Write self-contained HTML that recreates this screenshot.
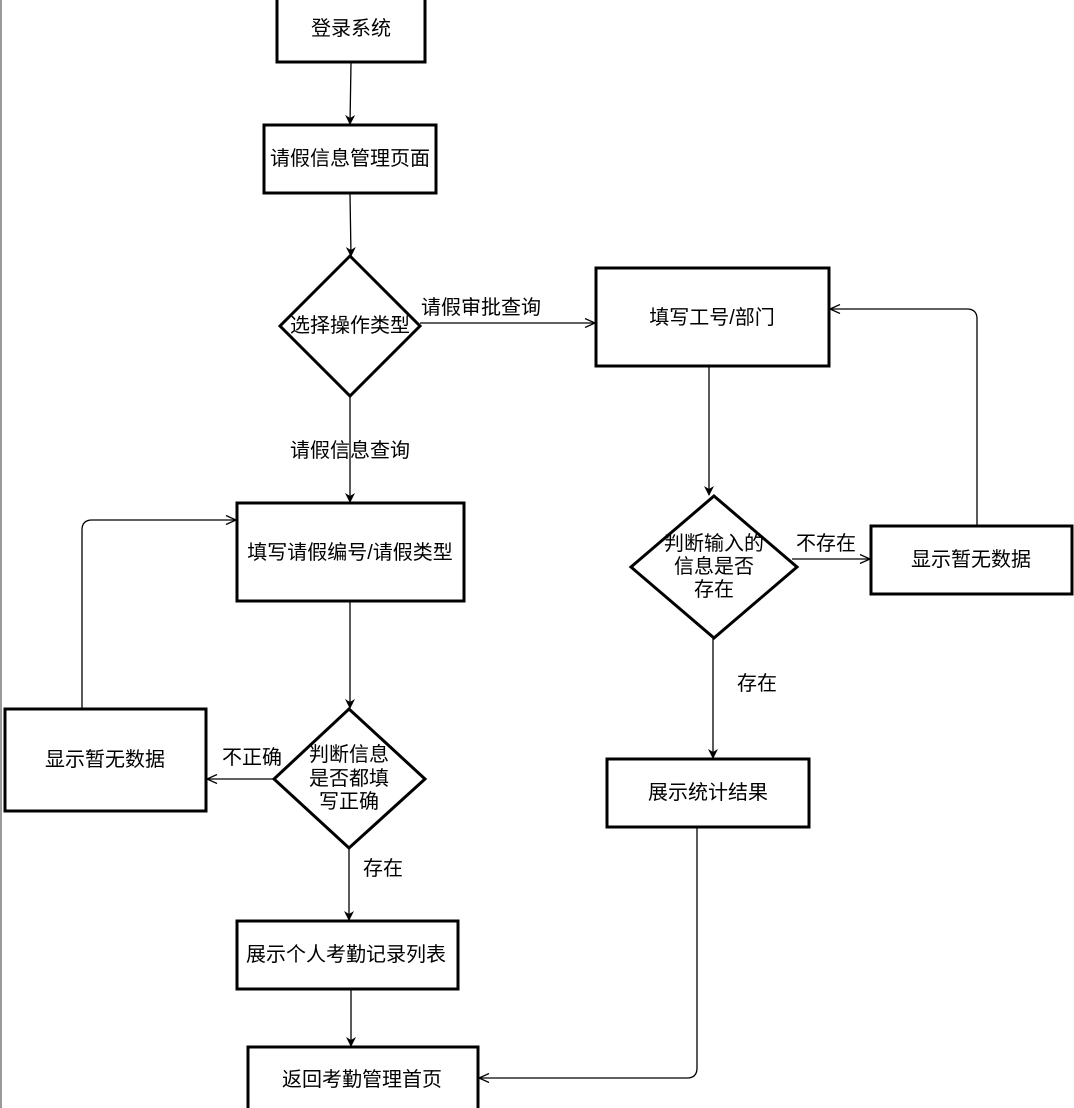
<!DOCTYPE html>
<html><head><meta charset="utf-8"><style>
html,body{margin:0;padding:0;background:#fff;}
svg{display:block;}
text{font-family:"Liberation Sans","Noto Sans CJK SC",sans-serif;font-size:20px;fill:#000;text-anchor:middle;dominant-baseline:central;}
.b{fill:#fff;stroke:#000;stroke-width:3;}
.l{fill:none;stroke:#000;stroke-width:1.3;}
</style></head><body>
<svg width="1074" height="1108" viewBox="0 0 1074 1108" xmlns="http://www.w3.org/2000/svg">
<defs>
<marker id="a" markerWidth="10" markerHeight="10" refX="9" refY="5" orient="auto" markerUnits="userSpaceOnUse"><path d="M0,0 L10,5 L0,10 L3,5 Z" fill="#000"/></marker>
<marker id="o" markerWidth="12" markerHeight="10" refX="11" refY="5" orient="auto" markerUnits="userSpaceOnUse"><path d="M1,0.5 L11,5 L1,9.5" fill="none" stroke="#000" stroke-width="1.3"/></marker>
</defs>
<line x1="1" y1="0" x2="1" y2="1108" stroke="#999" stroke-width="2"/>

<path class="l" d="M351,63 L350,124" marker-end="url(#a)"/>
<path class="l" d="M350,194 L351,256" marker-end="url(#a)"/>
<path class="l" d="M420,323 L595,323" marker-end="url(#o)"/>
<path class="l" d="M350,396 L350,502" marker-end="url(#a)"/>
<path class="l" d="M350,602 L350,708" marker-end="url(#a)"/>
<path class="l" d="M274,779 L207,779" marker-end="url(#o)"/>
<path class="l" d="M82,709 L82,530 Q82,520 92,520 L236,520" marker-end="url(#o)"/>
<path class="l" d="M349,849 L349,920" marker-end="url(#a)"/>
<path class="l" d="M351,985 L351,1046" marker-end="url(#a)"/>
<path class="l" d="M709,367 L709,495" marker-end="url(#a)"/>
<path class="l" d="M792,559 L870,559" marker-end="url(#o)"/>
<path class="l" d="M977,525 L977,319 Q977,309 967,309 L830,309" marker-end="url(#o)"/>
<path class="l" d="M713,638 L713,758" marker-end="url(#a)"/>
<path class="l" d="M697,828 L697,1068 Q697,1078 687,1078 L479,1078" marker-end="url(#o)"/>

<rect class="b" x="277" y="-3" width="148" height="65"/>
<text x="351" y="29">登录系统</text>
<rect class="b" x="264" y="125" width="172" height="68"/>
<text x="350" y="159">请假信息管理页面</text>
<polygon class="b" points="350,256 420,326 350,396 280,326"/>
<text x="350" y="326">选择操作类型</text>
<rect class="b" x="596" y="268" width="233" height="98"/>
<text x="712" y="318">填写工号/部门</text>
<rect class="b" x="237" y="503" width="227" height="98"/>
<text x="350" y="553">填写请假编号/请假类型</text>
<polygon class="b" points="349,709 425,779 349,848 274,779"/>
<text x="349" y="755">判断信息</text>
<text x="349" y="779">是否都填</text>
<text x="349" y="802">写正确</text>
<rect class="b" x="5" y="709" width="201" height="102"/>
<text x="105" y="760">显示暂无数据</text>
<rect class="b" x="237" y="921" width="221" height="68"/>
<text x="346" y="955">展示个人考勤记录列表</text>
<rect class="b" x="248" y="1047" width="230" height="66"/>
<text x="362" y="1080">返回考勤管理首页</text>
<polygon class="b" points="714,496 797,567 714,638 631,567"/>
<text x="714" y="544">判断输入的</text>
<text x="714" y="567">信息是否</text>
<text x="714" y="590">存在</text>
<rect class="b" x="871" y="526" width="201" height="68"/>
<text x="971" y="560">显示暂无数据</text>
<rect class="b" x="607" y="759" width="202" height="68"/>
<text x="708" y="793">展示统计结果</text>

<text x="481" y="308">请假审批查询</text>
<text x="350" y="451">请假信息查询</text>
<text x="252" y="758">不正确</text>
<text x="383" y="869">存在</text>
<text x="826" y="544">不存在</text>
<text x="757" y="684">存在</text>
</svg>
</body></html>
